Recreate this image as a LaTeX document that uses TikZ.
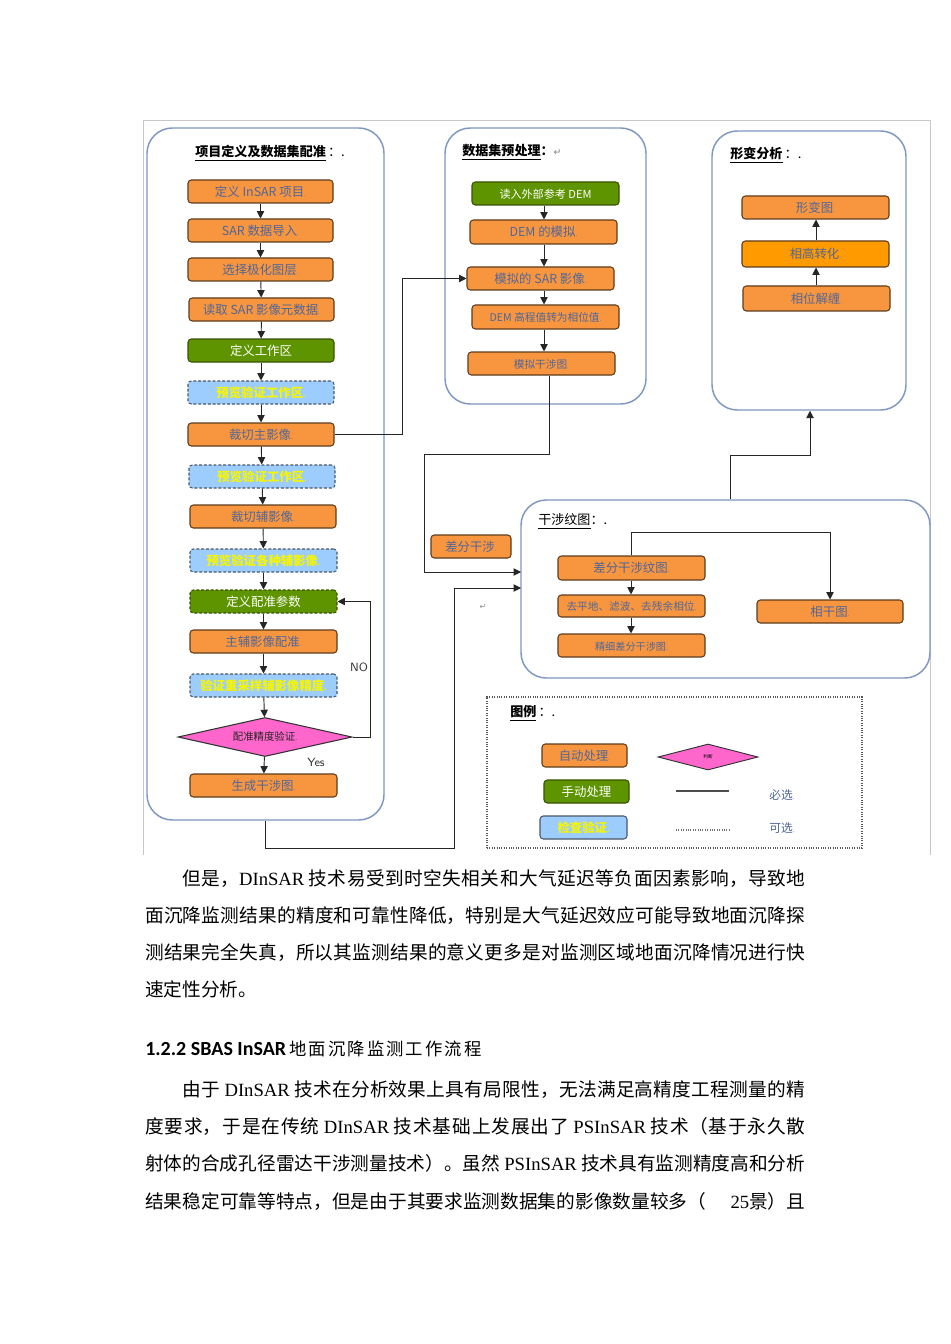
\documentclass[tikz,border=0pt]{standalone}
\usepackage{fontspec}
\setmainfont{Liberation Serif}
\newfontfamily\cjk{Noto Sans CJK SC}
\newfontfamily\cjksp{Noto Sans CJK SC}[LetterSpace=12]
\newfontfamily\hd{Carlito}
\newfontfamily\sym{DejaVu Sans}
\usetikzlibrary{arrows.meta,shapes.geometric,fit}
\XeTeXlinebreaklocale "zh"
\XeTeXlinebreakskip=0pt plus 3pt
\definecolor{orf}{HTML}{F7963E}
\definecolor{orb}{HTML}{FF9A00}
\definecolor{ord}{HTML}{5E3C1C}
\definecolor{grf}{HTML}{5E9400}
\definecolor{grd}{HTML}{3A5200}
\definecolor{blf}{HTML}{9DCCFF}
\definecolor{bld}{HTML}{4A5866}
\definecolor{ylt}{HTML}{F5F500}
\definecolor{btx}{HTML}{50669A}
\definecolor{pnl}{HTML}{7F97C2}
\definecolor{mag}{HTML}{FF66CC}
\newcommand\mkd{{\fontsize{5}{6}\selectfont .}}
\newcommand\mybox[5]{\node[#1, fit={#2 #3}] (#4) {};
  \node[#1, draw=none, fill=none, anchor=center, text height=0.8em, text depth=0.12em] at (#4.center) {#5};}
\begin{document}
\begin{tikzpicture}[x=0.75pt,y=-0.75pt,
  boxbase/.style={inner sep=0pt, rounded corners=2.5pt, line width=0.8pt, font=\cjk\fontsize{9.3}{11}\selectfont},
  aubox/.style={boxbase, fill=orf, draw=ord, text=btx},
  aubright/.style={boxbase, fill=orb, draw=ord, text=btx},
  mabox/.style={boxbase, fill=grf, draw=grd, text=white},
  ckbox/.style={boxbase, fill=blf, draw=bld, dash pattern=on 2.2pt off 1.4pt, text=ylt, font=\cjk\bfseries\fontsize{9.3}{11}\selectfont},
  panel/.style={draw=pnl, line width=1.1pt, rounded corners=19pt, inner sep=0pt},
  arr/.style={-{Triangle[length=5.5pt,width=5.5pt]}, line width=0.7pt, black!85},
  ttl/.style={anchor=south west, inner sep=0pt, font=\cjk\bfseries\fontsize{9.8}{11}\selectfont}
]
\fill[white] (0,0) rectangle (950,1344);
\useasboundingbox (0,0) rectangle (950,1344);
% outer figure frame
\draw[black!22, line width=0.6pt] (143,855) -- (143,120) -- (930,120) -- (930,855);

% ===== panel 1 =====
\node[panel, fit={(147,128) (384,820)}] (P1) {};
\node[ttl] (t1) at (195,161) {\underline{项目定义及数据集配准}\,{\mdseries ：.}};
\mybox{aubox}{(188,180)}{(333,203)}{L1}{定义 InSAR 项目\mkd}
\mybox{aubox}{(188,219)}{(333,242)}{L2}{SAR 数据导入\mkd}
\mybox{aubox}{(188,258)}{(333,281)}{L3}{选择极化图层\mkd}
\mybox{aubox}{(189,298)}{(334,321)}{L4}{读取 SAR 影像元数据\mkd}
\mybox{mabox}{(188,339)}{(334,362)}{L5}{定义工作区}
\mybox{ckbox}{(188,381)}{(334,404)}{L6}{预览验证工作区\mkd}
\mybox{aubox}{(188,423)}{(334,446)}{L7}{裁切主影像\mkd}
\mybox{ckbox}{(189,465)}{(335,488)}{L8}{预览验证工作区\mkd}
\mybox{aubox}{(190,505)}{(336,528)}{L9}{裁切辅影像\mkd}
\mybox{ckbox}{(190,549)}{(337,572)}{L10}{预览验证各种辅影像\mkd}
\mybox{mabox,dash pattern=on 2.2pt off 1.4pt}{(190,590)}{(337,613)}{L11}{定义配准参数}
\mybox{aubox}{(190,630)}{(337,653)}{L12}{主辅影像配准\mkd}
\mybox{ckbox}{(190,674)}{(337,697)}{L13}{验证重采样辅影像精度\mkd}
\node[diamond, draw=black!80, line width=0.8pt, fill=mag, aspect=4.46, minimum width=130.5pt, minimum height=29.25pt, inner sep=0pt, font=\cjk\fontsize{7.8}{9}\selectfont, text=black!85] (D) at (265,737) {配准精度验证\mkd};
\mybox{aubox}{(190,774)}{(337,797)}{L15}{生成干涉图\mkd}
\foreach \a/\b in {L1/L2,L2/L3,L3/L4,L4/L5,L5/L6,L6/L7,L7/L8,L8/L9,L9/L10,L10/L11,L11/L12,L12/L13,L13/D,D/L15}
  \draw[arr] (\a) -- (\b);
\draw[arr] (D.east) -- ++(18,0) |- (L11.east);
\node[font=\sffamily\fontsize{9}{10}\selectfont, text=black!80] (no) at (359,667) {NO};
\node[font=\sffamily\fontsize{9}{10}\selectfont, text=black!80] (yes) at (316,762) {Yes};

% ===== panel 2 =====
\node[panel, fit={(445,128) (646,404)}] (P2) {};
\node[ttl] (t2) at (462,160) {\underline{数据集预处理}：{\sym\mdseries\fontsize{7}{8}\selectfont\color{black!50}↵}};
\coordinate (mx) at (544,0);
\mybox{mabox,font=\cjk\fontsize{8.3}{10}\selectfont}{(472,182)}{(619,205)}{M1}{读入外部参考 DEM}
\mybox{aubox}{(470,220)}{(617,244)}{M2}{DEM 的模拟\mkd}
\mybox{aubox}{(467,267)}{(614,290)}{M3}{模拟的 SAR 影像\mkd}
\mybox{aubox,font=\cjk\fontsize{8}{9}\selectfont}{(472,305)}{(619,329)}{M4}{DEM 高程值转为相位值\mkd}
\mybox{aubox,font=\cjk\fontsize{8}{9}\selectfont}{(468,352)}{(615,375)}{M5}{模拟干涉图\mkd}
\draw[arr] (M1.south -| mx) -- (M2.north -| mx);
\draw[arr] (M2.south -| mx) -- (M3.north -| mx);
\draw[arr] (M3.south -| mx) -- (M4.north -| mx);
\draw[arr] (M4.south -| mx) -- (M5.north -| mx);
\draw[arr] (L7.east) -- ++(68,0) |- (M3.west);

% ===== panel 3 =====
\node[panel, fit={(712,131) (906,410)}] (P3) {};
\node[ttl] (t3) at (730,163) {\underline{形变分析}\,{\mdseries ：.}};
\coordinate (rx) at (816,0);
\mybox{aubox}{(742,196)}{(889,219)}{R1}{形变图\mkd}
\mybox{aubright}{(742,241)}{(889,267)}{R2}{相高转化\mkd}
\mybox{aubox}{(743,286)}{(890,311)}{R3}{相位解缠\mkd}
\draw[arr] (R3.north -| rx) -- (R2.south -| rx);
\draw[arr] (R2.north -| rx) -- (R1.south -| rx);

% ===== panel 4 =====
\node[panel, fit={(521,500) (930,678)}] (P4) {};
\node[ttl, font=\cjk\fontsize{9.8}{11}\selectfont] (t4) at (538,529) {\underline{干涉纹图}：.};
\coordinate (ix) at (631,0);
\mybox{aubox}{(558,556)}{(705,580)}{I1}{差分干涉纹图\mkd}
\mybox{aubox,font=\cjk\fontsize{8}{9}\selectfont}{(558,595)}{(705,617)}{I2}{去平地、滤波、去残余相位\mkd}
\mybox{aubox,font=\cjk\fontsize{7.6}{9}\selectfont}{(558,634)}{(705,657)}{I3}{精细差分干涉图\mkd}
\mybox{aubox}{(757,600)}{(903,623)}{I4}{相干图\mkd}
\draw[arr] (I1.south -| ix) -- (I2.north -| ix);
\draw[arr] (I2.south -| ix) -- (I3.north -| ix);
\coordinate (k5) at (829,532);
\draw[arr] (I1.north -| ix) |- (I4.north |- k5) -- (I4.north);

\mybox{aubox}{(431,535)}{(511,558)}{DF}{差分干涉\mkd}
\node[font=\sym\fontsize{6}{7}\selectfont, text=black!45] (rt) at (483,607) {↵};

% inter-panel connectors
\coordinate (k0) at (549,0);
\coordinate (k1) at (424,454);
\coordinate (in1) at (521,572);
\draw[arr] (M5.south -| k0) |- (k1) |- (in1);
\coordinate (k3) at (454,848);
\coordinate (in2) at (521,588);
\draw[arr] (P1.south) |- (k3) |- (in2);
\coordinate (k7) at (730,0);
\coordinate (k9) at (810,455);
\draw[arr] (P4.north -| k7) |- (k9) -- (P3.south -| k9);

% ===== legend =====
\node[draw=black!65, densely dotted, line width=0.8pt, inner sep=0pt, fit={(487,697) (862,848)}] (LG) {};
\node[ttl] (t5) at (510,721) {\underline{图例}\,{\mdseries ：.}};
\mybox{aubox}{(542,744)}{(627,767)}{G1}{自动处理\mkd}
\node[diamond, draw=black!80, line width=0.7pt, fill=mag, aspect=3.85, minimum width=75pt, minimum height=19.5pt, inner sep=0pt, font=\cjk\fontsize{3.5}{4}\selectfont, text=black] (G2) at (708,757) {判断};
\mybox{mabox}{(544,780)}{(629,803)}{G3}{手动处理}
\mybox{ckbox,solid}{(540,816)}{(627,839)}{G4}{检查验证\mkd}
\coordinate (s1) at (676,791);
\coordinate (s2) at (729,791);
\draw[black!70, line width=0.8pt] (s1) -- (s2);
\node[font=\cjk\fontsize{8.8}{10}\selectfont, text=btx] (must) at (782,795) {必选\mkd};
\coordinate (s3) at (676,830);
\coordinate (s4) at (730,830);
\draw[black!55, line width=0.8pt, densely dotted] (s3) -- (s4);
\node[font=\cjk\fontsize{8.8}{10}\selectfont, text=btx] (opt) at (782,828) {可选\mkd};

% ===== body text =====
\node[anchor=north west, inner sep=0pt, text width=495pt, align=justify, font=\fontsize{14}{27.75}\selectfont] (T1) at (145,869) {\tolerance=10000\hspace*{2em}{\cjk 但是，}DInSAR{\cjk\ 技术易受到时空失相关和大气延迟等负面因素影响，导致地}\linebreak
{\cjk 面沉降监测结果的精度和可靠性降低，特别是大气延迟效应可能导致地面沉降探}\linebreak
{\cjk 测结果完全失真，所以其监测结果的意义更多是对监测区域地面沉降情况进行快}\linebreak
{\cjk 速定性分析。}};

\node[anchor=base west, inner sep=0pt] (H) at (145,1055) {{\hd\bfseries\fontsize{15}{18}\selectfont 1.2.2 SBAS InSAR} {\cjksp\fontsize{13}{16}\selectfont 地面沉降监测工作流程}};

\node[anchor=north west, inner sep=0pt, text width=495pt, align=justify, font=\fontsize{14}{28}\selectfont] (T2) at (145,1080) {\tolerance=10000\parfillskip=0pt\hspace*{2em}{\cjk 由于 }DInSAR{\cjk\ 技术在分析效果上具有局限性，无法满足高精度工程测量的精}\linebreak
{\cjk 度要求，于是在传统 }DInSAR{\cjk\ 技术基础上发展出了 }PSInSAR{\cjk\ 技术（基于永久散}\linebreak
{\cjk 射体的合成孔径雷达干涉测量技术）。虽然 }PSInSAR{\cjk\ 技术具有监测精度高和分析}\linebreak
{\cjk 结果稳定可靠等特点，但是由于其要求监测数据集的影像数量较多（}\hspace{1.3em}25{\cjk 景）且}\par};
\end{tikzpicture}
\end{document}
